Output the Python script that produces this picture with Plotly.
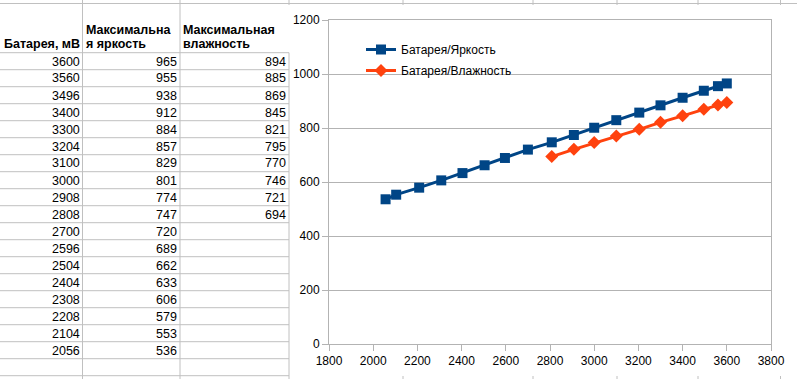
import plotly.graph_objects as go

# ---- data ----
battery = [3600, 3560, 3496, 3400, 3300, 3204, 3100, 3000, 2908, 2808,
           2700, 2596, 2504, 2404, 2308, 2208, 2104, 2056]
brightness = [965, 955, 938, 912, 884, 857, 829, 801, 774, 747,
              720, 689, 662, 633, 606, 579, 553, 536]
humidity = [894, 885, 869, 845, 821, 795, 770, 746, 721, 694]

header_col1 = ["Батарея, мВ"]
header_col2 = ["Максимальна", "я яркость"]
header_col3 = ["Максимальная", "влажность"]
series_names = ["Батарея/Яркость", "Батарея/Влажность"]

W, H = 797, 379
FONT = "Liberation Sans, Arial, sans-serif"


def px(x):
    return x / W


def py(y):
    return 1 - y / H


fig = go.Figure()

fig.add_trace(go.Scatter(
    x=battery, y=brightness, mode="lines+markers", name=series_names[0],
    line=dict(color="#004586", width=3),
    marker=dict(symbol="square", size=10, color="#004586"),
    legendgroup="a",
))
fig.add_trace(go.Scatter(
    x=battery[:len(humidity)], y=humidity, mode="lines+markers", name=series_names[1],
    line=dict(color="#ff420e", width=3),
    marker=dict(symbol="diamond", size=10, color="#ff420e"),
    legendgroup="b",
))

shapes = []
grid = "#c0c0c0"


def hline(x0, x1, y):
    shapes.append(dict(type="line", xref="paper", yref="paper",
                       x0=px(x0), x1=px(x1), y0=py(y), y1=py(y),
                       line=dict(color=grid, width=1)))


def vline(x, y0, y1):
    shapes.append(dict(type="line", xref="paper", yref="paper",
                       x0=px(x), x1=px(x), y0=py(y0), y1=py(y1),
                       line=dict(color=grid, width=1)))


# spreadsheet grid
hline(0, W, 3.5)
row_top = 52.7
row_h = 17
n_rows = len(battery) + 1
for k in range(n_rows + 1):
    hline(0, 289, row_top + k * row_h)
vline(82.5, 0, H)
vline(180, 0, H)
vline(289, 0, 5)
vline(289, row_top, H)
for xs in [403, 533, 617, 698, 780.5]:
    vline(xs, 0, 5)
    vline(xs, 376, H)

annotations = []


def text(x, y, s, anchor, bold=False):
    annotations.append(dict(
        xref="paper", yref="paper", x=px(x), y=py(y), text=("<b>%s</b>" % s) if bold else s,
        showarrow=False, xanchor=anchor, yanchor="middle",
        font=dict(family=FONT, size=12.5, color="#000"),
    ))


text(2, 43.5, header_col1[0], "left", True)
text(83.5, 30.5, header_col2[0], "left", True)
text(83.5, 43.5, header_col2[1], "left", True)
text(180.5, 30.5, header_col3[0], "left", True)
text(180.5, 43.5, header_col3[1], "left", True)

for k, v in enumerate(battery):
    text(81.5, row_top + k * row_h + 8.8, str(v), "right")
for k, v in enumerate(brightness):
    text(178.5, row_top + k * row_h + 8.8, str(v), "right")
for k, v in enumerate(humidity):
    text(287.5, row_top + k * row_h + 8.8, str(v), "right")

axcol = "#b3b3b3"
fig.update_layout(
    width=W, height=H,
    margin=dict(l=0, r=0, t=0, b=0, autoexpand=False),
    paper_bgcolor="white", plot_bgcolor="white",
    font=dict(family=FONT, size=12, color="#000"),
    shapes=shapes, annotations=annotations,
    showlegend=True,
    legend=dict(x=px(361), y=py(35), xanchor="left", yanchor="top",
                bgcolor="rgba(0,0,0,0)", font=dict(family=FONT, size=12, color="#000"),
                tracegroupgap=2),
    xaxis=dict(domain=[px(329), px(771)], range=[1800, 3800], dtick=200, tick0=1800,
               automargin=False,
               showgrid=False, zeroline=False, showline=True, linecolor=axcol, linewidth=1,
               mirror=True, ticks="outside", ticklen=6, tickcolor=axcol,
               tickfont=dict(family=FONT, size=12, color="#000")),
    yaxis=dict(domain=[py(344), py(20)], range=[0, 1200], dtick=200, tick0=0,
               automargin=False,
               showgrid=True, gridcolor=axcol, zeroline=False, showline=True,
               linecolor=axcol, linewidth=1, mirror=True, ticks="outside", ticklen=6,
               tickcolor=axcol, tickfont=dict(family=FONT, size=12, color="#000")),
)

fig.write_html("out.html",
               config={"displayModeBar": False},
               post_script="document.body.style.margin='0';document.body.style.overflow='hidden';")
